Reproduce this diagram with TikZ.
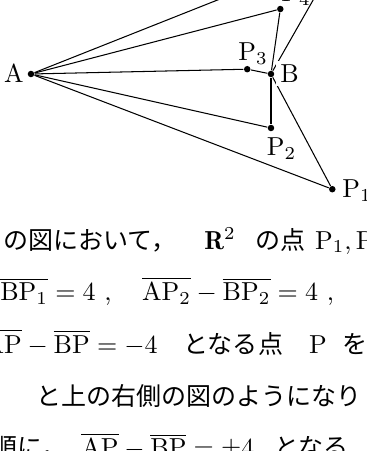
\documentclass[tikz,border=0pt]{standalone}
\usepackage{fontspec}
\usepackage{amsmath}
\usepackage{tikz}
\usetikzlibrary{positioning}
\newfontfamily\jpfont[Scale=0.962]{Noto Sans CJK JP}

\begin{document}
\begin{tikzpicture}[x=18.46pt, y=18.46pt, line width=0.4pt,
          dot/.style={circle, fill, inner sep=0pt, minimum size=2.5pt},
          lbl/.style={inner sep=0pt},
          txt/.style={anchor=base west, inner sep=0pt}]
        \useasboundingbox (-3.1458,-7.8542) rectangle (4.5,1.5417);
        \clip (-3.1458,-7.8542) rectangle (4.5,1.5417);
        % foci and points on the branch AP-BP=4
        \node[dot] (A) at (-2.5,0) {};
        \node[dot] (B) at (2.5,0) {};
        \foreach \i/\x/\y in {1/3.777/-2.40, 2/2.5/-1.125, 3/2.005/0.1, 4/2.694/1.354}{
          \node[dot] (P\i) at (\x,\y) {};
        }
        \coordinate (P5) at (3.96,2.563);
        \foreach \i in {1,...,5}{
          \draw (A) -- (P\i);
          \draw (B) -- (P\i);
        }
        \node[lbl, anchor=base east] (lA) at ([shift={(-2.6pt,-3.3pt)}]A.center) {A};
        \node[lbl, anchor=base west, fill=white, inner sep=1.5pt] (lB)
              at ([shift={(1.9pt,-3.3pt)}]B.center) {B};
        \node[lbl, anchor=base west] (lP1) at ([shift={(3.7pt,-3.2pt)}]P1.center) {$\mathrm{P}_1$};
        \node[lbl, anchor=base west] (lP2) at ([shift={(-1.8pt,-10.7pt)}]P2.center) {$\mathrm{P}_2$};
        \node[lbl, anchor=base west] (lP3) at ([shift={(-3.6pt,3.2pt)}]P3.center) {$\mathrm{P}_3$};
        \node[lbl, anchor=base west] (lP4) at ([shift={(0.2pt,2.7pt)}]P4.center) {$\mathrm{P}_4$};
        % text below the figure
        \node[txt] (line1) at (-3.083,-3.646)
              {{\jpfont の図において，}\hspace{10.9pt}$\mathbf{R}^2$\hspace{7.7pt}{\jpfont の点}\hspace{3.5pt}$\mathrm{P}_1,\mathrm{P}$};
        \node[txt] (line2) at (-3.15,-4.729)
              {$\overline{\mathrm{BP}_1}=4$\ ,\hspace{11.7pt}$\overline{\mathrm{AP}_2}-\overline{\mathrm{BP}_2}=4$\ ,};
        \node[txt] (line3) at (-3.475,-5.8125)
              {$\overline{\mathrm{AP}}-\overline{\mathrm{BP}}=-4$\hspace{10pt}{\jpfont となる点}\hspace{10pt}$\mathrm{P}$\hspace{6.2pt}{\jpfont を}};
        \node[txt] (line4) at (-2.396,-6.896)
              {\jpfont と上の右側の図のようになり};
        \node[txt] (line5) at (-3.3125,-7.979)
              {{\jpfont 順に，}\hspace{5.8pt}$\overline{\mathrm{AP}}-\overline{\mathrm{BP}}=\pm4$\hspace{7.8pt}{\jpfont となる}};
      \end{tikzpicture}
\end{document}
